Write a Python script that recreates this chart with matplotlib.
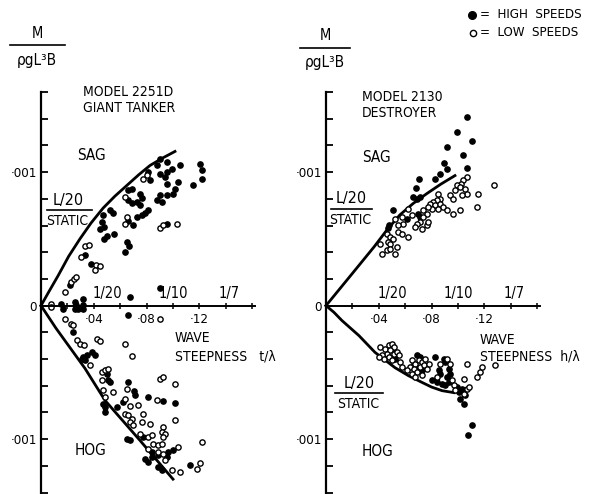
import matplotlib
matplotlib.use("Agg")
import matplotlib.pyplot as plt
import numpy as np
from matplotlib.lines import Line2D

plt.rcParams["font.family"] = ["DejaVu Sans"]
plt.rcParams["font.stretch"] = "condensed"

# M / (rho g L^3 B), in units of 0.001, against wave steepness h/lambda

# ---------------------------------------------------------------------------
# Model 2251D, giant tanker
# ---------------------------------------------------------------------------
tanker_sag_x = [0, 0.006, 0.013, 0.021, 0.0295, 0.038, 0.047, 0.056, 0.065,
                0.074, 0.0826, 0.092, 0.1015]
tanker_sag_m = [0, 0.105, 0.225, 0.37, 0.50, 0.62, 0.73, 0.82, 0.90,
                0.98, 1.05, 1.105, 1.155]
tanker_hog_x = [0, 0.0114, 0.0333, 0.0485, 0.075, 0.1]
tanker_hog_m = [0, -0.17, -0.47, -0.71, -1.01, -1.30]

tanker_high_x = [
    .0902, .0952, .0876, .0813, .0826, .0902, .0952, .099, .1053, .1205,
    .1217, .1217, .1154, .0939, .0952, .104, .1015, .1002, .0952, .0902,
    .0876, .0914, .075, .0763, .0725, .075, .0687, .0662, .0662, .0687,
    .0813, .0788, .0763, .073, .0662, .0694, .0957, .0523, .0543, .0472,
    .046, .0477, .0447, .0498, .0553, .048, .0649, .0669,
    .0634, .0331, .0381, .0217, .0318, .0154, .0167, .0255, .0267, .0255,
    .028, .0318, .0318, .0672, .0899, .0659,
    .0245, .032, .0346, .0308, .0333, .0384, .0409, .0498, .051, .0523,
    .0662, .0705, .0712, .0624, .0813, .0927, .1015, .0472, .0485, .0573,
    .0485, .0649, .0674, .0775, .0838, .0889, .0964, .0998, .0788, .0813,
    .0838, .0952, .0889, .0914, .1129,
]
tanker_high_m = [
    1.101, 1.076, 1.051, 1.001, .939, .989, 1.001, 1.026, 1.056, 1.064,
    1.014, .951, .901, .964, .914, .927, .876, .839, .826, .826,
    .789, .777, .839, .807, .777, .751, .876, .864, .789, .772,
    .714, .697, .676, .664, .632, .607, .614, .714, .697, .676,
    .627, .589, .572, .522, .539, .502, .477, .447,
    .402, .377, .315, .152, .052, .015, -.022, .027, .002, -.022,
    -.022, .002, -.028, .065, .132, -.072,
    -.197, -.384, -.372, -.397, -.41, -.347, -.372, -.51, -.56, -.572,
    -.572, -.642, -.672, -.722, -.684, -.717, -.727, -.734, -.759, -.759,
    -.796, -.996, -1.009, -.984, -1.096, -1.121, -1.096, -1.084, -1.146, -1.171,
    -1.134, -1.134, -1.209, -1.234, -1.196,
]
tanker_low_x = [
    .0801, .0775, .0636, .0649, .0636, .0902, .0927, .1028, .0333, .0366,
    .0306, .0419, .0444, .0407, .023, .025, .0267, .018, .0078, .0078,
    .0899, .018, .023,
    .0245, .027, .0295, .0326, .0422, .0447, .0636, .0687, .0371, .046,
    .0485, .051, .046, .0649, .0902, .0927, .1015, .0472, .0548, .0485,
    .0636, .0876, .0737, .0674,
    .0636, .0662, .0687, .0674, .0699, .0775, .0763, .0826, .1015, .0927,
    .0914, .0939, .0927, .075, .0813, .0838, .0851, .0889, .0914, .0813,
    .0889, .0927, .104, .1217, .0939, .099, .1053, .118, .1205,
]
tanker_low_m = [
    .976, .951, .814, .664, .614, .582, .602, .614, .447, .457,
    .364, .307, .297, .264, .177, .202, .215, .102, .015, -.01,
    -.097, -.097, -.135,
    -.147, -.26, -.285, -.297, -.252, -.264, -.285, -.377, -.447, -.497,
    -.485, -.472, -.56, -.622, -.547, -.534, -.584, -.634, -.647, -.684,
    -.697, -.709, -.742, -.751,
    -.809, -.822, -.846, -.871, -.897, -.809, -.871, -.884, -.859, -.909,
    -.946, -.959, -.984, -.959, -.984, -.966, -1.034, -1.041, -1.034, -1.071,
    -1.096, -1.109, -1.059, -1.021, -1.159, -1.234, -1.246, -1.226, -1.176,
]

# ---------------------------------------------------------------------------
# Model 2130, destroyer
# ---------------------------------------------------------------------------
destroyer_sag_x = [0, 0.0174, 0.0364, 0.046, 0.056, 0.066, 0.0765, 0.087,
                   0.0977]
destroyer_sag_m = [0, 0.21, 0.44, 0.565, 0.68, 0.765, 0.84, 0.91, 0.974]
destroyer_hog_x = [0, 0.006, 0.0121, 0.025, 0.0371, 0.0523, 0.0625, 0.0727,
                   0.08, 0.0879, 0.097]
destroyer_hog_m = [0, -0.05, -0.112, -0.225, -0.35, -0.465, -0.525, -0.575,
                   -0.61, -0.637, -0.652]

destroyer_high_x = [
    .1066, .099, .1104, .0914, .1035, .0894, .0919, .107, .0864, .0826,
    .0707, .0682, .0657, .0687, .0712, .0505, .048, .0472, .0699, .0712,
    .0611,
    .0525, .05, .0689, .0715, .0702, .0727, .0664, .0828, .0904, .0891,
    .0854, .0866, .0929, .0942, .0917, .0803, .0841, .0879, .0904, .0929,
    .0992, .1005, .103, .1056, .1017, .1043, .1104, .1078,
]
destroyer_high_m = [
    1.413, 1.301, 1.231, 1.189, 1.131, 1.071, 1.026, 1.031, .989, .946,
    .946, .881, .814, .801, .814, .714, .607, .582, .689, .664,
    .652,
    -.397, -.322, -.372, -.384, -.472, -.485, -.434, -.384, -.422, -.397,
    -.485, -.51, -.472, -.51, -.534, -.559, -.572, -.584, -.597, -.572,
    -.609, -.647, -.622, -.672, -.697, -.734, -.896, -.971,
]
destroyer_low_x = [
    .1066, .104, .102, .099, .0977, .1015, .1053, .1066, .1028, .0939,
    .0964, .0851, .0864, .0838, .0813, .0788, .0826, .0864, .0889, .0851,
    .0801, .0775, .0914, .0964, .1015, .1154, .1141, .1273, .0737, .0763,
    .0737, .0712, .0687, .0674, .0725, .0763, .0775, .0649, .0624, .0573,
    .0586, .0624, .0523, .0548, .046, .0485, .051, .0472, .0548, .0573,
    .0409, .0485, .0535, .0424, .0462, .0525, .0487,
    .0412, .045, .0475, .05, .0513, .0487, .0462, .0424, .0437, .0513,
    .0538, .0551, .0475, .05, .0563, .0576, .0399,
    .0652, .0677, .0702, .0727, .0752, .0639, .0664, .0689, .0715, .074,
    .0614, .0652, .0677, .0727, .0778, .0765,
    .0866, .0917, .0942, .0841, .0955, .0967, .098, .1043, .1068, .108,
    .1043, .1068, .1144, .1169, .1283, .118,
]
destroyer_low_m = [
    .964, .939, .914, .901, .864, .889, .876, .839, .826, .826,
    .801, .839, .801, .789, .777, .764, .751, .764, .739, .727,
    .727, .739, .714, .689, .714, .839, .739, .906, .714, .689,
    .664, .627, .614, .589, .577, .602, .627, .676, .727, .664,
    .614, .514, .652, .602, .539, .514, .502, .477, .552, .539,
    .464, .464, .44, .39, .414, .39, .427,
    -.31, -.322, -.297, -.285, -.31, -.335, -.36, -.372, -.397, -.36,
    -.347, -.372, -.384, -.41, -.422, -.459, -.384,
    -.41, -.434, -.41, -.422, -.397, -.459, -.472, -.497, -.459, -.447,
    -.485, -.51, -.534, -.522, -.434, -.472,
    -.434, -.397, -.434, -.534, -.559, -.597, -.634, -.659, -.622, -.609,
    -.547, -.434, -.534, -.497, -.447, -.46,
]

W, H = 595, 494


def fx(px):
    return px / W


def fy(py):
    return 1 - py / H


def draw_panel(ax, sag, hog, high, low):
    for side in ("top", "right"):
        ax.spines[side].set_visible(False)
    ax.spines["left"].set_position(("data", 0))
    ax.spines["bottom"].set_position(("data", 0))
    ax.spines["left"].set_linewidth(1.6)
    ax.spines["bottom"].set_linewidth(1.4)
    ax.set_xlim(0, 0.162)
    ax.set_ylim(-1.4, 1.6)
    ax.patch.set_visible(False)

    yt = np.round(np.arange(-1.4, 1.61, 0.2), 1)
    ax.set_yticks(yt)
    ax.set_yticklabels(["·001" if abs(v) == 1 else ("0" if v == 0 else "")
                        for v in yt])
    ax.set_xticks([0.04, 0.08, 0.12])
    ax.set_xticklabels(["·04", "·08", "·12"])
    ax.set_xticks(np.arange(0.02, 0.161, 0.02), minor=True)
    ax.tick_params(axis="y", direction="in", length=5, width=1.3,
                   labelsize=9.5, pad=3)
    ax.tick_params(axis="x", which="both", direction="inout", length=5,
                   width=1.1, labelsize=9.5, pad=3)

    ax.plot(sag[0], sag[1], color="black", lw=2.0, clip_on=False,
            solid_joinstyle="round")
    ax.plot(hog[0], hog[1], color="black", lw=2.0, clip_on=False,
            solid_joinstyle="round")
    ax.plot(high[0], high[1], "o", ms=3.8, color="black", mec="black",
            clip_on=False)
    ax.plot(low[0], low[1], "o", ms=3.8, mfc="white", mec="black",
            mew=1.0, clip_on=False)

    for x, lab in [(0.05, "1/20"), (0.1, "1/10"), (1 / 7, "1/7")]:
        ax.text(x, 0.09, lab, ha="center", va="center", fontsize=10.5)


fig = plt.figure(figsize=(W / 100, H / 100), dpi=100)

ax1 = fig.add_axes([fx(41), 0.003, 0.3594, 0.8107])
ax2 = fig.add_axes([fx(326), 0.003, 0.3594, 0.8107])

draw_panel(ax1, (tanker_sag_x, tanker_sag_m), (tanker_hog_x, tanker_hog_m),
           (tanker_high_x, tanker_high_m), (tanker_low_x, tanker_low_m))
draw_panel(ax2, (destroyer_sag_x, destroyer_sag_m),
           (destroyer_hog_x, destroyer_hog_m),
           (destroyer_high_x, destroyer_high_m),
           (destroyer_low_x, destroyer_low_m))


def ftext(px, py, s, size=10, ha="left"):
    fig.text(fx(px), fy(py), s, fontsize=size, ha=ha, va="center")


def fline(x0, x1, py, lw=1.3):
    fig.add_artist(Line2D([fx(x0), fx(x1)], [fy(py), fy(py)], color="black",
                          lw=lw, transform=fig.transFigure))


def static_label(cx, py_line, x0, x1):
    ftext(cx, py_line - 10, "L/20", size=11.5, ha="center")
    fline(x0, x1, py_line, lw=1.2)
    ftext(cx - 1, py_line + 11, "STATIC", size=10, ha="center")


# ordinate fraction labels
for cx, x0, x1, yoff in [(37, 10, 65, 0), (325, 300, 350, 3)]:
    ftext(cx, 33 + yoff, "M", size=10.5, ha="center")
    fline(x0, x1, 45 + yoff, lw=1.2)
    ftext(cx, 60 + yoff, "ρgL³B", size=11, ha="center")

# left panel texts
ftext(83, 92, "MODEL 2251D")
ftext(83, 108, "GIANT TANKER")
ftext(77, 155, "SAG", size=11)
static_label(68, 210, 47, 92)
ftext(75, 450, "HOG", size=11)
ftext(175, 338, "WAVE")
ftext(175, 356, "STEEPNESS   t/λ")

# right panel texts
ftext(362, 97, "MODEL 2130")
ftext(362, 113, "DESTROYER")
ftext(362, 157, "SAG", size=11)
static_label(351, 209, 331, 372)
static_label(359, 393, 335, 383)
ftext(362, 451, "HOG", size=11)
ftext(480, 340, "WAVE")
ftext(480, 357, "STEEPNESS  h/λ")

# key
fig.add_artist(Line2D([fx(472)], [fy(15)], marker="o", ms=5.5, color="black",
                      transform=fig.transFigure))
fig.add_artist(Line2D([fx(473)], [fy(33)], marker="o", ms=4.5, mfc="white",
                      mec="black", mew=1.0, transform=fig.transFigure))
ftext(480, 15, "=  HIGH  SPEEDS", size=9.5)
ftext(480, 33, "=  LOW  SPEEDS", size=9.5)

fig.savefig("out.png", dpi=100)
